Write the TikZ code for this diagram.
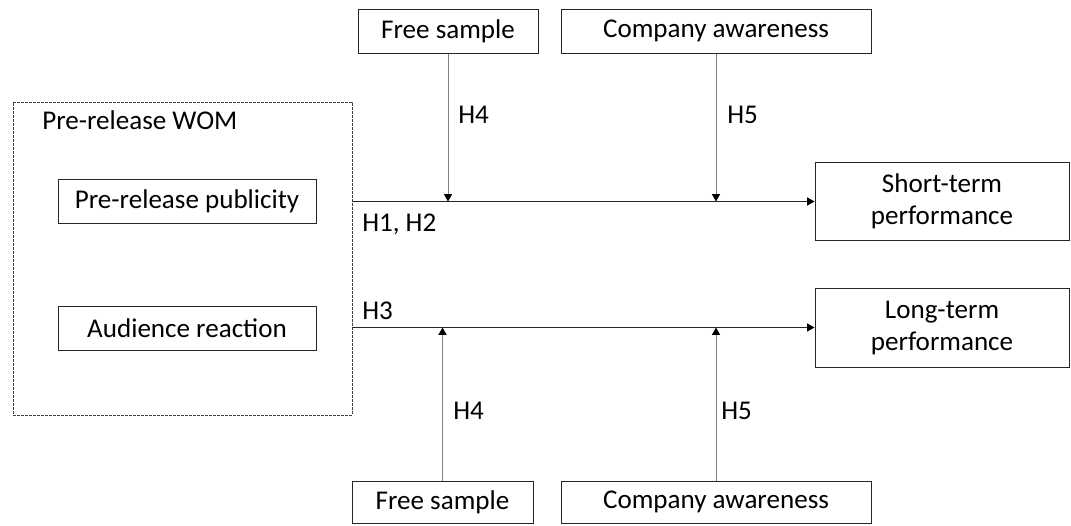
\documentclass[tikz,border=0pt]{standalone}
\usepackage{fontspec}
\setmainfont{Carlito}
\usetikzlibrary{arrows.meta}
\begin{document}
\begin{tikzpicture}[x=0.75pt,y=-0.75pt,
  every node/.style={font=\fontsize{20.3}{24}\selectfont},
  box/.style={draw=black!85, line width=0.75pt, inner sep=0pt, align=center},
  dbox/.style={draw=black!75, line width=0.7pt, dash pattern=on 2pt off 1pt, inner sep=0pt},
  tip/.style={-{Triangle[length=5.5pt,width=6pt,color=black,fill=black]}},
  hline/.style={draw=black!85, line width=0.75pt, tip},
  vline/.style={draw=black!50, line width=0.75pt, tip},
  lbl/.style={anchor=west, inner sep=0pt}]
\useasboundingbox (0,0) rectangle (1071,525);
% group box
\node[dbox, minimum width=339*0.75pt, minimum height=313*0.75pt] (wom) at (182.5,258.5) {};
\node[anchor=base west, inner sep=0pt] (womlbl) at (42,129) {Pre-release WOM};
\node[box, minimum width=258*0.75pt, minimum height=44*0.75pt] (pub) at (187,201) {Pre-release publicity};
\node[box, minimum width=258*0.75pt, minimum height=44*0.75pt] (aud) at (187,328) {Audience reaction};
% top moderators
\node[box, minimum width=180*0.75pt, minimum height=44*0.75pt] (fs1) at (448,31) {Free sample};
\node[box, minimum width=310*0.75pt, minimum height=44*0.75pt] (ca1) at (716,31) {Company awareness};
% bottom moderators
\node[box, minimum width=181*0.75pt, minimum height=42*0.75pt] (fs2) at (442.5,502) {Free sample};
\node[box, minimum width=310*0.75pt, minimum height=42*0.75pt] (ca2) at (716,502) {Company awareness};
% outcomes
\node[box, minimum width=254*0.75pt, minimum height=78*0.75pt] (short) at (942,201.5) {Short-term\\performance};
\node[box, minimum width=254*0.75pt, minimum height=79*0.75pt] (long) at (942,327.5) {Long-term\\performance};
% main paths
\coordinate (s0) at (wom.east |- short.west);
\coordinate (l0) at (wom.east |- long.west);
\draw[hline] (s0) -- (short.west);
\draw[hline] (l0) -- (long.west);
% moderator arrows
\draw[vline] (fs1.south) -- (fs1.south |- short.west);
\draw[vline] (ca1.south) -- (ca1.south |- short.west);
\draw[vline] (fs2.north) -- (fs2.north |- long.west);
\draw[vline] (ca2.north) -- (ca2.north |- long.west);
% labels
\node[lbl] (h4a) at (458,115) {H4};
\node[lbl] (h5a) at (727,115) {H5};
\node[lbl] (h12) at (362,224) {H1, H2};
\node[lbl] (h3) at (362,311) {H3};
\node[lbl] (h4b) at (453,411) {H4};
\node[lbl] (h5b) at (721,411) {H5};
\end{tikzpicture}
\end{document}
